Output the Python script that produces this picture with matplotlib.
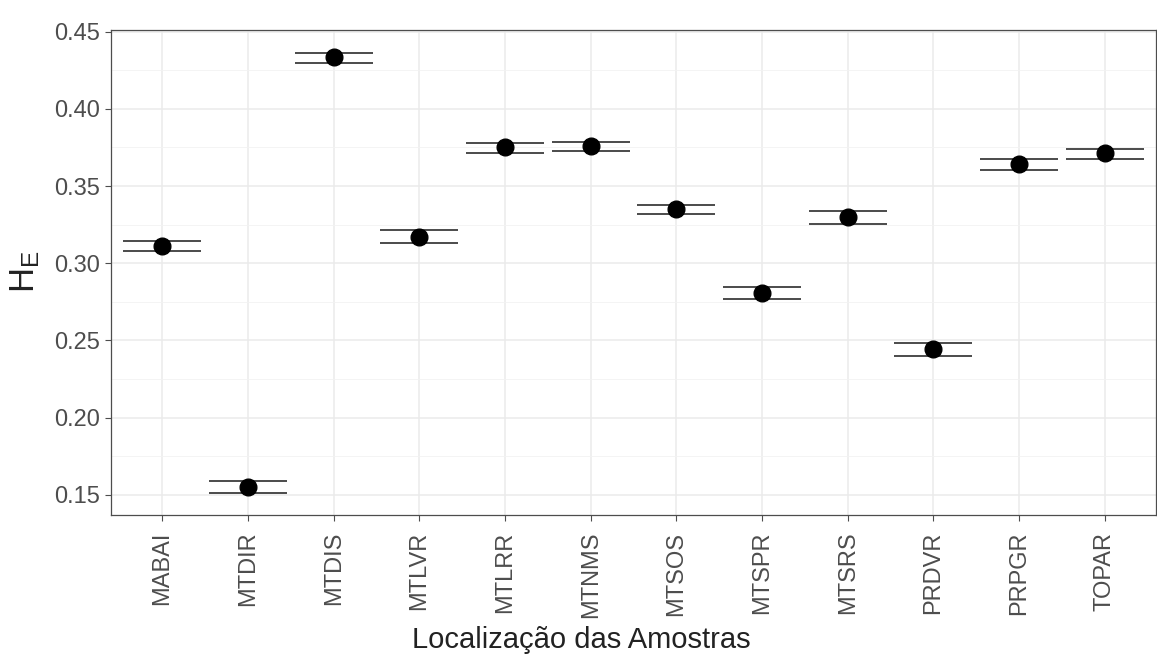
import matplotlib
matplotlib.use("Agg")
import matplotlib.pyplot as plt
import numpy as np

# dados
sites = ["MABAI", "MTDIR", "MTDIS", "MTLVR", "MTLRR", "MTNMS",
         "MTSOS", "MTSPR", "MTSRS", "PRDVR", "PRPGR", "TOPAR"]
he_mean = [0.3111, 0.1554, 0.4332, 0.3171, 0.3750, 0.3756,
           0.3350, 0.2808, 0.3302, 0.2446, 0.3640, 0.3711]
he_low = [0.3076, 0.1513, 0.4298, 0.3128, 0.3713, 0.3724,
          0.3317, 0.2771, 0.3257, 0.2401, 0.3603, 0.3672]
he_high = [0.3145, 0.1592, 0.4360, 0.3214, 0.3780, 0.3788,
           0.3377, 0.2844, 0.3341, 0.2483, 0.3674, 0.3739]

plt.rcParams["font.family"] = ["Liberation Sans", "DejaVu Sans"]
plt.rcParams["mathtext.fontset"] = "custom"
plt.rcParams["mathtext.rm"] = "Liberation Sans"

fig = plt.figure(figsize=(11.57, 6.59), dpi=100)
ax = fig.add_axes([111 / 1157, 1 - 515 / 659, 1045 / 1157, 485 / 659])

x = np.arange(1, len(sites) + 1)
mean = np.array(he_mean)
yerr = [mean - np.array(he_low), np.array(he_high) - mean]

ax.errorbar(x, mean, yerr=yerr, fmt="none", ecolor="#1a1a1a",
            elinewidth=1.1, capsize=28, capthick=1.1, zorder=3)
ax.plot(x, mean, "o", color="black", markersize=12, zorder=4)

ax.set_xlim(0.4, 12.6)
ax.set_ylim(0.137, 0.451)
ax.set_xticks(x)
ax.set_xticklabels(sites, rotation=90, va="top", ha="center")
yt = [0.15, 0.20, 0.25, 0.30, 0.35, 0.40, 0.45]
ax.set_yticks(yt)
ax.set_yticklabels([f"{v:.2f}" for v in yt])
ax.set_yticks(np.arange(0.175, 0.45, 0.05), minor=True)

ax.grid(which="major", color="#EBEBEB", linewidth=1.1, zorder=0)
ax.grid(which="minor", axis="y", color="#F2F2F2", linewidth=0.6, zorder=0)
ax.set_axisbelow(True)

ax.tick_params(axis="both", which="major", labelsize=17, labelcolor="#4D4D4D",
               color="#4D4D4D", length=4, width=0.8)
ax.tick_params(axis="y", pad=4)
ax.tick_params(axis="x", pad=8)
ax.tick_params(which="minor", length=0)
for s in ax.spines.values():
    s.set_color("#4D4D4D")
    s.set_linewidth(0.9)

fig.text(581 / 1157, 1 - 640 / 659, "Localização das Amostras",
         ha="center", va="center", fontsize=21, color="#222222")
fig.text(25 / 1157, 1 - 272 / 659, r"$\mathrm{H_E}$", rotation=90,
         ha="center", va="center", fontsize=25, color="#222222")

fig.savefig("out.png", dpi=100)
